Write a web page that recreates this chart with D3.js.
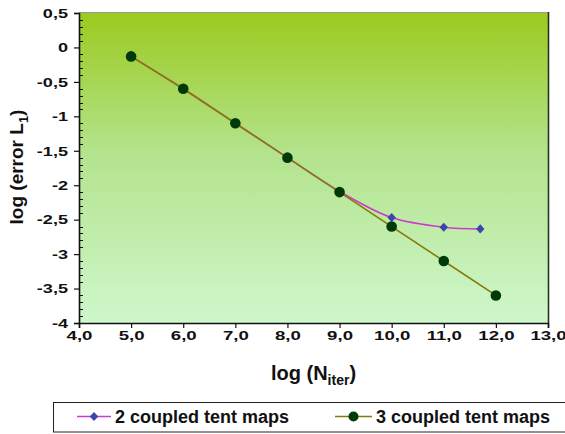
<!DOCTYPE html>
<html>
<head>
<meta charset="utf-8">
<script src="https://cdn.jsdelivr.net/npm/d3@7"></script>
<style>
  html, body { margin: 0; padding: 0; background: #fff; }
  svg text { font-family: "Liberation Sans", Arial, Helvetica, sans-serif; font-weight: bold; fill: #111; }
</style>
</head>
<body>
<svg id="chart" width="565" height="434"></svg>
<script>
// Convergence of the L1 error against the number of iterations (log-log)
const seriesNames = ["2 coupled tent maps", "3 coupled tent maps"];
const xTwo = [5, 6, 7, 8, 9, 10, 11, 11.7];
const yTwo = [-0.13, -0.6, -1.1, -1.6, -2.09, -2.47, -2.61, -2.635];
const xThree = [5, 6, 7, 8, 9, 10, 11, 12];
const yThree = [-0.13, -0.6, -1.1, -1.6, -2.1, -2.6, -3.1, -3.6];
const xTicks = [4, 5, 6, 7, 8, 9, 10, 11, 12, 13];
const yTicks = [0.5, 0, -0.5, -1, -1.5, -2, -2.5, -3, -3.5, -4];

const svg = d3.select("#chart");
const m = { left: 79, right: 548, top: 13, bottom: 323 };

const x = d3.scaleLinear().domain([4, 13]).range([m.left, m.right]);
const y = d3.scaleLinear().domain([-4, 0.5]).range([m.bottom, m.top]);

const fmtX = v => v.toFixed(1).replace(".", ",");
const fmtY = v => (Number.isInteger(v) ? String(v) : String(v).replace(".", ","));

// widen glyphs horizontally while keeping their anchor
function stretch(sel, k) {
  sel.each(function () {
    const len = this.getComputedTextLength();
    d3.select(this).attr("textLength", len * k).attr("lengthAdjust", "spacingAndGlyphs");
  });
}

// plot background gradient
const defs = svg.append("defs");
const grad = defs.append("linearGradient").attr("id", "bg")
  .attr("x1", 0).attr("y1", 0).attr("x2", 0).attr("y2", 1);
grad.append("stop").attr("offset", "0%").attr("stop-color", "#9bca1f");
grad.append("stop").attr("offset", "45%").attr("stop-color", "#b3e38c");
grad.append("stop").attr("offset", "100%").attr("stop-color", "#cff7cc");

svg.append("rect")
  .attr("x", m.left).attr("y", m.top)
  .attr("width", m.right - m.left).attr("height", m.bottom - m.top)
  .attr("fill", "url(#bg)");

// frame: light top edge, dark right edge
svg.append("line").attr("x1", m.left).attr("x2", m.right).attr("y1", m.top - 0.5).attr("y2", m.top - 0.5)
  .attr("stroke", "#999").attr("stroke-width", 1);
svg.append("line").attr("x1", m.right + 0.5).attr("x2", m.right + 0.5).attr("y1", m.top - 1).attr("y2", m.bottom)
  .attr("stroke", "#2a3320").attr("stroke-width", 1.6);

// y axis: major ticks outside, minor ticks inside
const yMinor = d3.range(-40, 6).map(d => d / 10).filter(d => !yTicks.some(t => Math.abs(t - d) < 1e-9));
svg.append("g").selectAll("line").data(yMinor).join("line")
  .attr("x1", m.left).attr("x2", m.left + 4)
  .attr("y1", d => Math.round(y(d)) + 0.5).attr("y2", d => Math.round(y(d)) + 0.5)
  .attr("stroke", "#111").attr("stroke-width", 1);

const yAxis = svg.append("g").attr("transform", `translate(${m.left},0)`)
  .call(d3.axisLeft(y).tickValues(yTicks).tickFormat(fmtY).tickSize(5).tickPadding(6));
yAxis.select(".domain").attr("stroke", "#111").attr("stroke-width", 1.6);
yAxis.selectAll(".tick line").attr("stroke", "#111").attr("stroke-width", 1.2);
yAxis.selectAll("text").style("font-size", "13.5px").attr("fill", "#111").call(stretch, 1.34);

const xAxis = svg.append("g").attr("transform", `translate(0,${m.bottom})`)
  .call(d3.axisBottom(x).tickValues(xTicks).tickFormat(fmtX).tickSize(5).tickPadding(2));
xAxis.select(".domain").attr("stroke", "#111").attr("stroke-width", 1.6);
xAxis.selectAll(".tick line").attr("stroke", "#111").attr("stroke-width", 1.2);
xAxis.selectAll("text").style("font-size", "13.5px").attr("fill", "#111").call(stretch, 1.38);

// axis titles
const xt = svg.append("text").attr("x", (m.left + m.right) / 2).attr("y", 380)
  .attr("text-anchor", "middle").style("font-size", "20px");
xt.append("tspan").text("log (N");
xt.append("tspan").text("iter").attr("dy", 5).style("font-size", "14px");
xt.append("tspan").text(")").attr("dy", -5);

const yt = svg.append("text")
  .attr("transform", `translate(23,167) rotate(-90)`)
  .attr("text-anchor", "middle").style("font-size", "19px");
yt.append("tspan").text("log (error L");
yt.append("tspan").text("1").attr("dy", 5).style("font-size", "13px");
yt.append("tspan").text(")").attr("dy", -5);

// series
const two = xTwo.map((d, i) => [d, yTwo[i]]);
const three = xThree.map((d, i) => [d, yThree[i]]);

svg.append("path").datum(two)
  .attr("d", d3.line().x(d => x(d[0])).y(d => y(d[1])).curve(d3.curveCatmullRom.alpha(0.5)))
  .attr("fill", "none").attr("stroke", "#cc3ccc").attr("stroke-width", 1.6);

const diamond = "M0,-4.6L4.2,0L0,4.6L-4.2,0Z";
svg.append("g").selectAll("path").data(two).join("path")
  .attr("d", diamond)
  .attr("transform", d => `translate(${x(d[0])},${y(d[1])})`)
  .attr("fill", "#3a45b0");

svg.append("path").datum(three)
  .attr("d", d3.line().x(d => x(d[0])).y(d => y(d[1])))
  .attr("fill", "none").attr("stroke", "#857a0c").attr("stroke-width", 1.6);

svg.append("g").selectAll("circle").data(three).join("circle")
  .attr("cx", d => x(d[0])).attr("cy", d => y(d[1])).attr("r", 5.3)
  .attr("fill", "#003a08");

// legend
svg.append("rect").attr("x", 53.5).attr("y", 402.5).attr("width", 520).attr("height", 29.5)
  .attr("fill", "#fff").attr("stroke", "#222").attr("stroke-width", 1);

const leg = [
  { name: seriesNames[0], x0: 77, x1: 111, color: "#cc3ccc", marker: "diamond" },
  { name: seriesNames[1], x0: 335, x1: 372, color: "#857a0c", marker: "circle" }
];
const ly = 416.5;
leg.forEach(l => {
  svg.append("line").attr("x1", l.x0).attr("x2", l.x1).attr("y1", ly).attr("y2", ly)
    .attr("stroke", l.color).attr("stroke-width", 1.4);
  const cx = (l.x0 + l.x1) / 2;
  if (l.marker === "diamond") {
    svg.append("path").attr("d", diamond).attr("transform", `translate(${cx},${ly})`).attr("fill", "#3a45b0");
  } else {
    svg.append("circle").attr("cx", cx).attr("cy", ly).attr("r", 5).attr("fill", "#003a08");
  }
  svg.append("text").attr("x", l.x1 + 4).attr("y", ly + 6).style("font-size", "18px").text(l.name);
});
</script>
</body>
</html>
